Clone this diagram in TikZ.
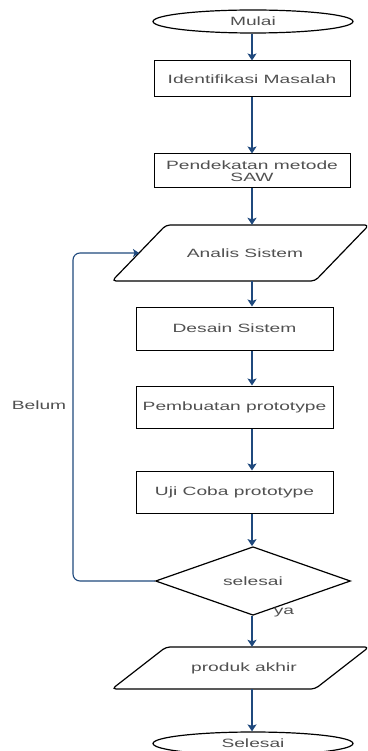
\documentclass[tikz,border=0pt]{standalone}
\usepackage{fontspec}
\setmainfont{Liberation Sans}[FakeStretch=1.6]
\usetikzlibrary{shapes.geometric,arrows.meta,calc}

\definecolor{flowblue}{RGB}{31,73,125}
\definecolor{labelgray}{RGB}{80,80,80}

\begin{document}
\begin{tikzpicture}[x=1pt,y=-1pt,
  every node/.style={font=\fontsize{12}{12.5}\selectfont, text=labelgray, inner sep=0pt},
  terminal/.style={ellipse, draw=black, line width=1.2pt, minimum width=200pt, minimum height=23pt},
  process/.style={rectangle, draw=black, line width=1pt, minimum width=197pt, minimum height=42pt},
  iobox/.style={rectangle, minimum width=200pt},
  ioshape/.style={draw=black, line width=1.2pt, rounded corners=4pt},
  decision/.style={diamond, draw=black, line width=1.2pt, minimum width=195pt, minimum height=58pt},
  flow/.style={draw=flowblue, line width=1.6pt, -{Stealth[width=9pt,length=7pt,inset=1.5pt]}},
  backflow/.style={draw=flowblue, line width=1.1pt, rounded corners=7pt, -{Stealth[width=8pt,length=6pt,inset=1.5pt]}}
]
\useasboundingbox (0,0) rectangle (367,751);
\clip (0,0) rectangle (367,751);

% vertical axis of the main flow
\coordinate (axis) at (252,0);

% start
\node[terminal] (start) at (253,21.5) {Mulai};

% process steps
\node[process, minimum width=196pt, minimum height=36pt] (ident) at (252,79) {Identifikasi Masalah};
\node[process, minimum width=196pt, minimum height=34pt, align=center] (pend) at (252,171) {Pendekatan metode\\SAW};

% input/output: system analysis
\draw[ioshape] (112,281) -- (166,225) -- (369,225) -- (315,281) -- cycle;
\node[iobox, minimum height=56pt] (analis) at (245,253) {Analis Sistem};
\coordinate (analisW) at (139,253);

\node[process, minimum height=43pt] (desain) at (234.5,328.5) {Desain Sistem};
\node[process] (buat) at (234.5,407) {Pembuatan prototype};
\node[process] (uji) at (234.5,492) {Uji Coba prototype};

% decision
\node[decision] (cek) at (253,581) {selesai};

% input/output: final product
\draw[ioshape] (112,689) -- (166,647) -- (369,647) -- (315,689) -- cycle;
\node[iobox, minimum height=42pt] (produk) at (244,668) {produk akhir};

% end
\node[terminal] (stop) at (253,743.5) {Selesai};

% main flow
\draw[flow] (start.south -| axis) -- (ident.north -| axis);
\draw[flow] (ident.south -| axis) -- (pend.north -| axis);
\draw[flow] (pend.south -| axis) -- (analis.north -| axis);
\draw[flow] (analis.south -| axis) -- (desain.north -| axis);
\draw[flow] (desain.south -| axis) -- (buat.north -| axis);
\draw[flow] (buat.south -| axis) -- (uji.north -| axis);
\draw[flow] (uji.south -| axis) -- (cek.north -| axis);
\draw[flow] (cek.south -| axis) -- (produk.north -| axis);
\draw[flow] (produk.south -| axis) -- (stop.north -| axis);

% loop back when not finished
\coordinate (loopx) at (73,400);
\draw[backflow] (cek.west) -| (loopx) |- (analisW);
\node (belum) at (39,405) {Belum};
\node (ya) at (284,613) {ya};
\end{tikzpicture}
\end{document}
